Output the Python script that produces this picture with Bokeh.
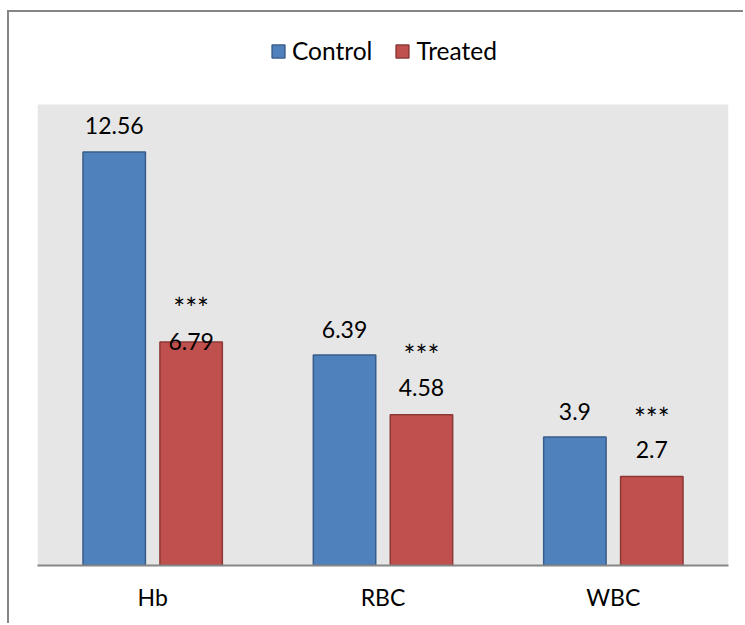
from bokeh.plotting import figure
from bokeh.models import (ColumnDataSource, FactorRange, Range1d, Legend, LegendItem,
                          BoxAnnotation)
from bokeh.transform import dodge
from bokeh.core.properties import value
from bokeh.embed import file_html
from bokeh.resources import INLINE

# ---- data ----
categories = ["Hb", "RBC", "WBC"]
control = [12.56, 6.39, 3.9]
treated = [6.79, 4.58, 2.7]
control_labels = ["12.56", "6.39", "3.9"]
treated_labels = ["6.79", "4.58", "2.7"]
signif = ["***", "***", "***"]
y_max = 14

# ---- style ----
FONT = "Lato"
BLUE, BLUE_LINE = "#4F81BD", "#385D8A"
RED, RED_LINE = "#C0504D", "#8C3836"
AXIS_GRAY = "#868686"
PLOT_GRAY = "#E6E6E6"
treated_label_offsets = [0, 27, 27]
signif_offsets = [38, 64, 63]

W, H = 736, 613
FRAME_TOP, PLOT_TOP, FRAME_BOTTOM = 20, 92, 553   # canvas px
y_end = y_max * (FRAME_BOTTOM - FRAME_TOP) / (FRAME_BOTTOM - PLOT_TOP)

src = ColumnDataSource(dict(cat=categories, control=control, cl=control_labels))
tsrc = ColumnDataSource(dict(cat=categories, treated=treated))

p = figure(width=W, height=H, output_backend="svg", toolbar_location=None,
           x_range=FactorRange(*categories, range_padding=0),
           y_range=Range1d(0, y_end),
           min_border_left=28, min_border_right=17, min_border_top=FRAME_TOP,
           min_border_bottom=H - FRAME_BOTTOM)
p.styles = {"border-left": f"2px solid {AXIS_GRAY}", "border-top": f"2px solid {AXIS_GRAY}",
            "margin-left": "7px", "margin-top": "10px"}

p.background_fill_color = "white"
p.border_fill_color = "white"
p.outline_line_color = None
p.xgrid.visible = False
p.ygrid.visible = False
p.yaxis.visible = False

p.add_layout(BoxAnnotation(bottom=0, top=y_max, fill_color=PLOT_GRAY, fill_alpha=1,
                           line_color=None, level="underlay"))

ax = p.xaxis[0]
ax.axis_line_color = AXIS_GRAY
ax.axis_line_width = 2
ax.major_tick_line_color = None
ax.minor_tick_line_color = None
ax.major_label_text_font = FONT
ax.major_label_text_font_size = "23px"
ax.major_label_text_color = "black"
ax.major_label_standoff = 11

off = 0.167
bw = 0.271
r1 = p.vbar(x=dodge("cat", -off, range=p.x_range), top="control", width=bw, source=src,
            fill_color=BLUE, line_color=BLUE_LINE, line_width=1.5)
r2 = p.vbar(x=dodge("cat", off, range=p.x_range), top="treated", width=bw, source=tsrc,
            fill_color=RED, line_color=RED_LINE, line_width=1.5)

p.text(x=dodge("cat", -off, range=p.x_range), y="control", text="cl", source=src,
       y_offset=-26, text_align="center", text_baseline="middle",
       text_font=value(FONT), text_font_size="23px", text_color="black")

# treated labels and significance marks with per-point offsets
for i in range(len(categories)):
    sub = ColumnDataSource(dict(cat=[categories[i]], v=[treated[i]], t=[treated_labels[i]],
                                s=[signif[i]]))
    p.text(x=dodge("cat", off, range=p.x_range), y="v", text="t", source=sub,
           y_offset=-treated_label_offsets[i], text_align="center", text_baseline="middle",
           text_font=value(FONT), text_font_size="23px", text_color="black")
    p.text(x=dodge("cat", off, range=p.x_range), y="v", text="s", source=sub,
           y_offset=-signif_offsets[i] + 4, text_align="center", text_baseline="middle",
           text_font=value(FONT), text_font_size="28px", text_color="black")

legend = Legend(items=[LegendItem(label="Control", renderers=[r1]),
                       LegendItem(label="Treated", renderers=[r2])],
                orientation="horizontal", location=(233, 500),
                glyph_width=16, glyph_height=16, label_standoff=6, spacing=22,
                padding=0, margin=0, border_line_color=None, background_fill_alpha=0,
                label_text_font=FONT, label_text_font_size="24.5px", label_height=24,
                label_text_color="black")
p.add_layout(legend, "center")

open("out.html", "w").write(file_html(p, INLINE))
